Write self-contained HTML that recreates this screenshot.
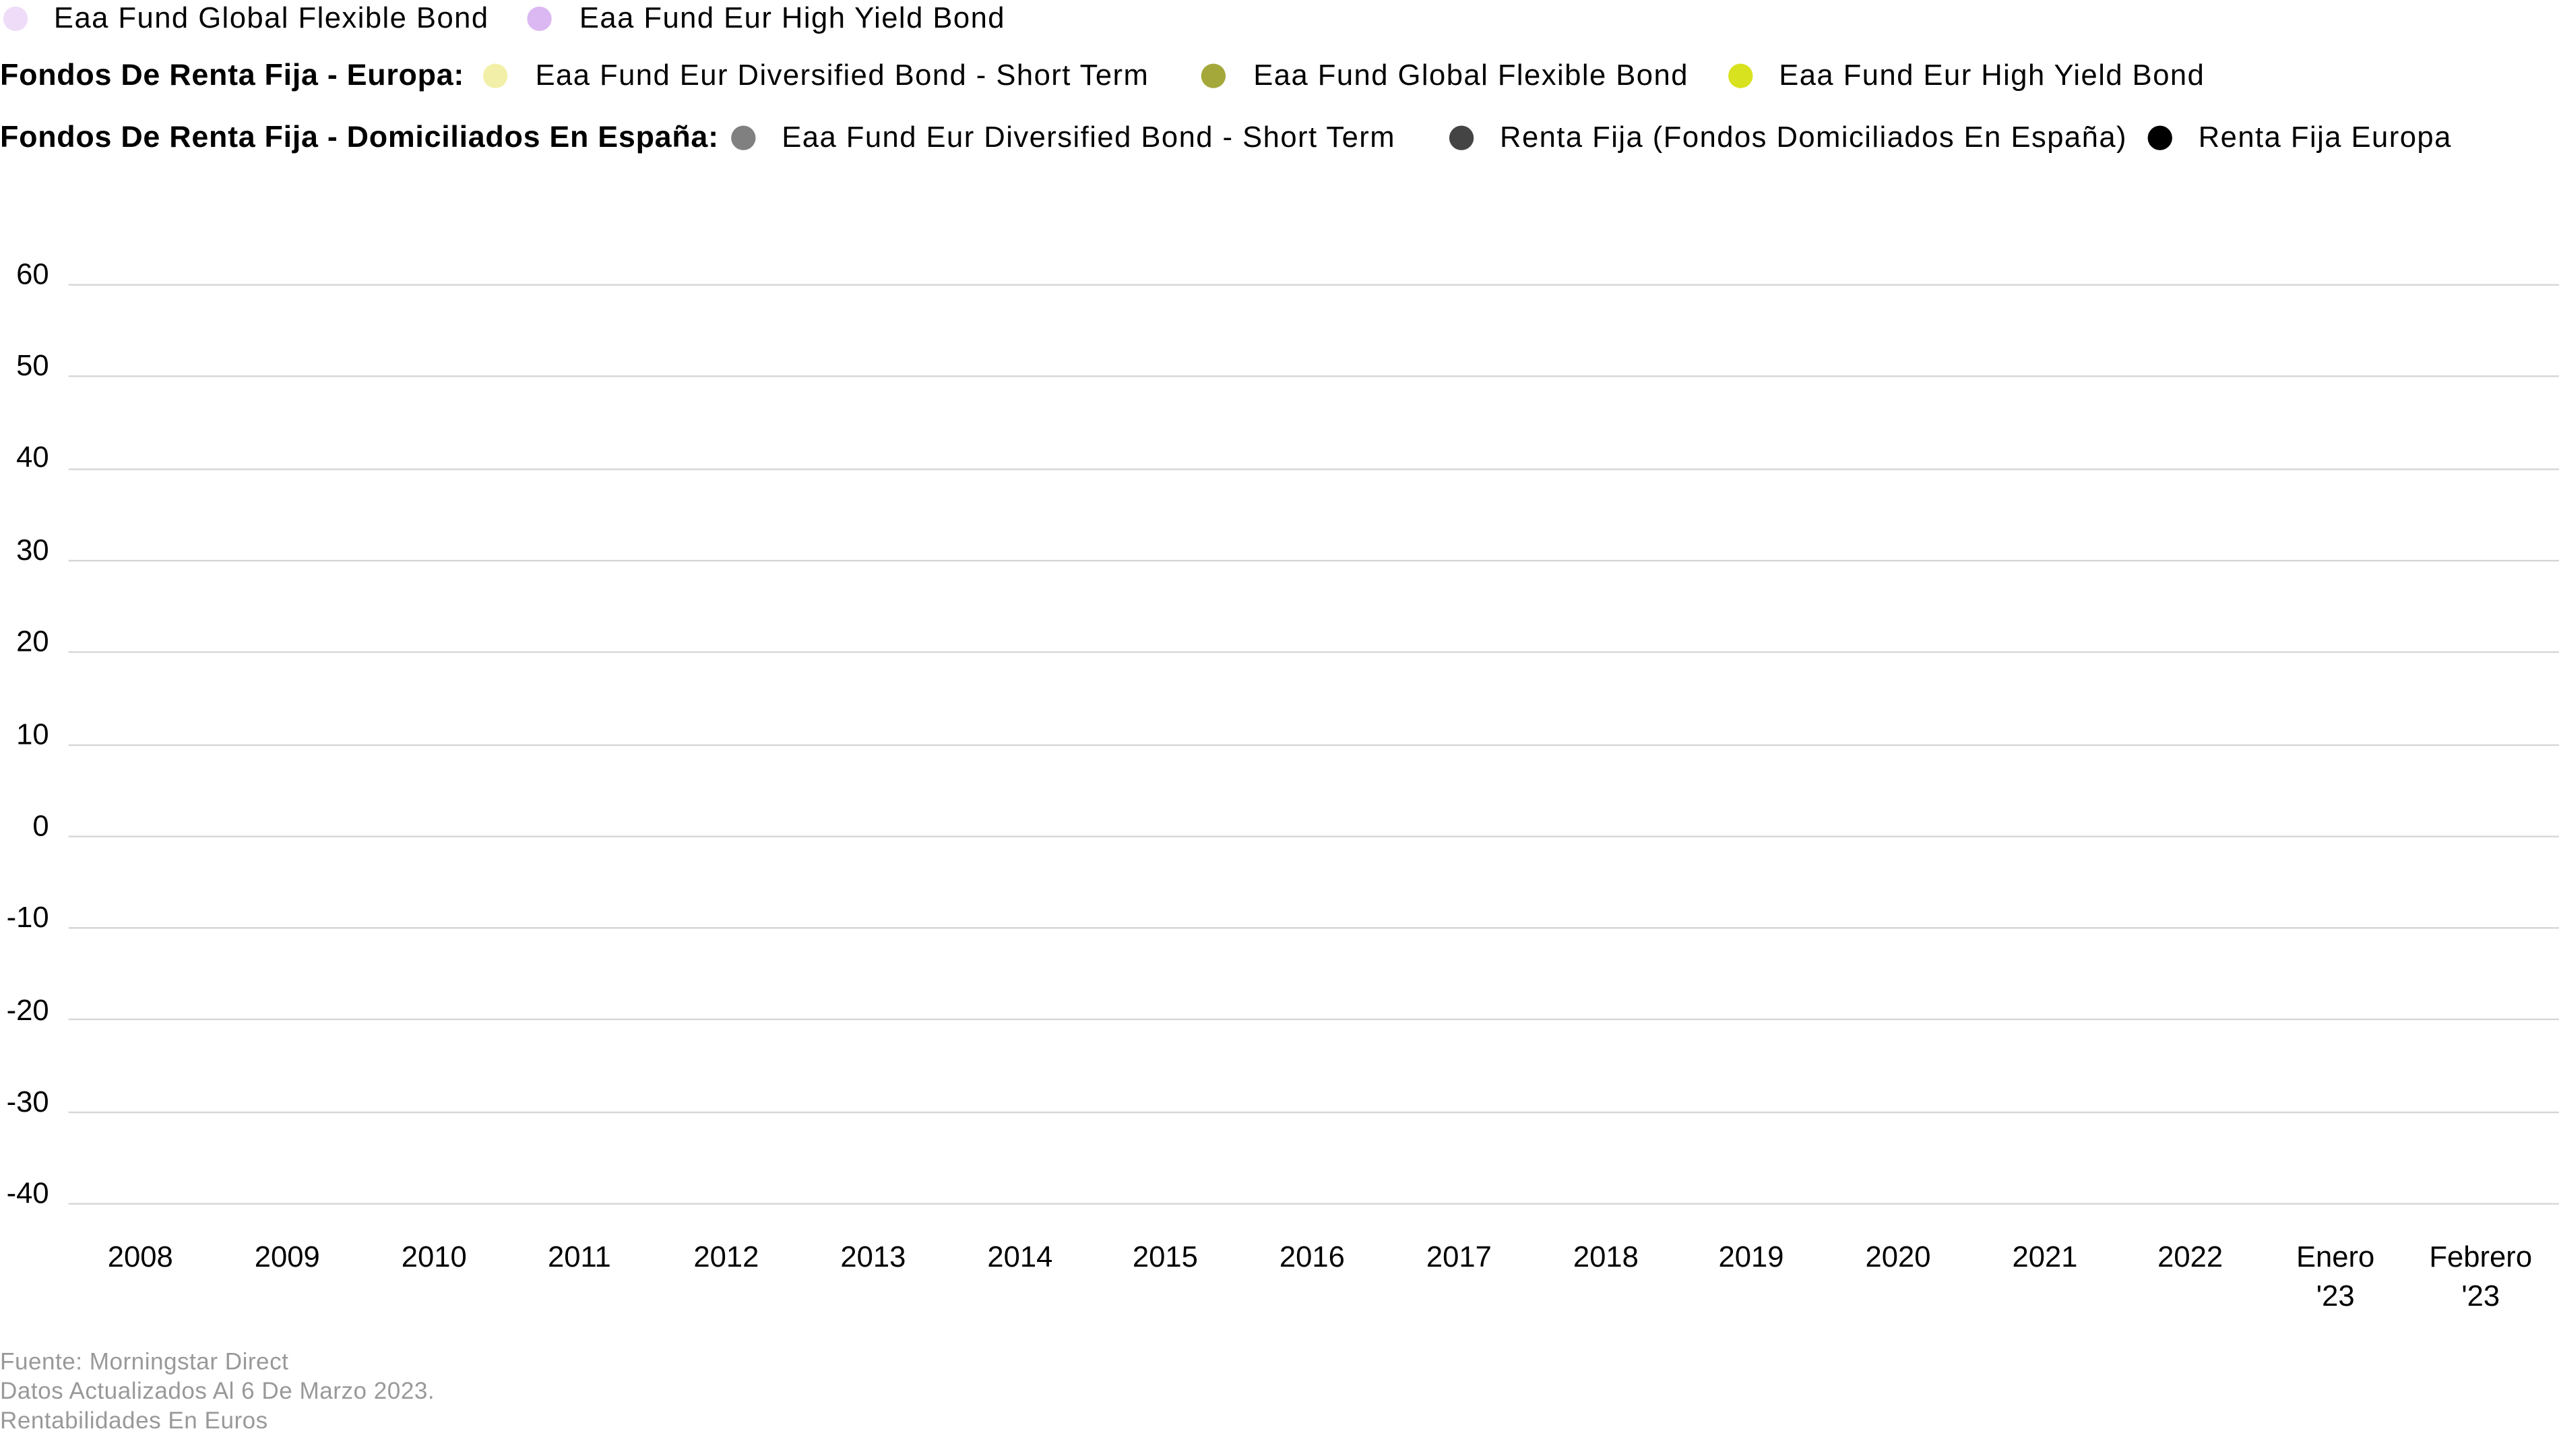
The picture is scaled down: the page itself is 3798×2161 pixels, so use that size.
<!DOCTYPE html>
<html><head><meta charset="utf-8"><style>
html,body{margin:0;padding:0;background:#fff;overflow:hidden;width:3798px;height:2161px}
#w{position:absolute;left:0;top:0;width:1568px;height:892px;transform:scale(2.4222,2.4226);transform-origin:0 0;font-family:"Liberation Sans",sans-serif;color:#000}
.t{position:absolute;font-size:18px;letter-spacing:0.6px;line-height:20px;white-space:nowrap}
.b{position:absolute;font-size:18.5px;font-weight:bold;letter-spacing:0.3px;line-height:20px;white-space:nowrap}
.d{position:absolute;width:15px;height:15px;border-radius:50%}
.g{position:absolute;left:42px;width:1526px;height:1px;background:#d6d6d6}
.y{position:absolute;left:0;width:30px;text-align:right;font-size:18px;line-height:20px}
.x{position:absolute;width:90px;margin-left:-45px;text-align:center;font-size:18px;line-height:24px}
.f{position:absolute;left:0;font-size:14.5px;color:#999;line-height:18px;letter-spacing:0.2px}
</style></head><body><div id="w">
<div class="d" style="left:2px;top:4px;background:#eedcf8"></div><div class="t" style="left:33px;top:1px">Eaa Fund Global Flexible Bond</div>
<div class="d" style="left:323px;top:4px;background:#dcb8f2"></div><div class="t" style="left:355px;top:1px">Eaa Fund Eur High Yield Bond</div>

<div class="b" style="left:0;top:36px">Fondos De Renta Fija - Europa:</div>
<div class="d" style="left:296px;top:39px;background:#f2f0a8"></div><div class="t" style="left:328px;top:36px">Eaa Fund Eur Diversified Bond - Short Term</div>
<div class="d" style="left:736px;top:39px;background:#a4a83a"></div><div class="t" style="left:768px;top:36px">Eaa Fund Global Flexible Bond</div>
<div class="d" style="left:1059px;top:39px;background:#d9e21e"></div><div class="t" style="left:1090px;top:36px">Eaa Fund Eur High Yield Bond</div>

<div class="b" style="left:0;top:74px">Fondos De Renta Fija - Domiciliados En España:</div>
<div class="d" style="left:448px;top:77px;background:#808080"></div><div class="t" style="left:479px;top:74px">Eaa Fund Eur Diversified Bond - Short Term</div>
<div class="d" style="left:888px;top:77px;background:#444"></div><div class="t" style="left:919px;top:74px">Renta Fija (Fondos Domiciliados En España)</div>
<div class="d" style="left:1316px;top:77px;background:#000"></div><div class="t" style="left:1347px;top:74px">Renta Fija Europa</div>

<div class="g" style="top:174px"></div><div class="y" style="top:158px">60</div>
<div class="g" style="top:230px"></div><div class="y" style="top:214px">50</div>
<div class="g" style="top:287px"></div><div class="y" style="top:270px">40</div>
<div class="g" style="top:343px"></div><div class="y" style="top:327px">30</div>
<div class="g" style="top:399px"></div><div class="y" style="top:383px">20</div>
<div class="g" style="top:456px"></div><div class="y" style="top:440px">10</div>
<div class="g" style="top:512px"></div><div class="y" style="top:496px">0</div>
<div class="g" style="top:568px"></div><div class="y" style="top:552px">-10</div>
<div class="g" style="top:624px"></div><div class="y" style="top:609px">-20</div>
<div class="g" style="top:681px"></div><div class="y" style="top:665px">-30</div>
<div class="g" style="top:737px"></div><div class="y" style="top:721px">-40</div>

<div class="x" style="left:86px;top:758px">2008</div>
<div class="x" style="left:176px;top:758px">2009</div>
<div class="x" style="left:266px;top:758px">2010</div>
<div class="x" style="left:355px;top:758px">2011</div>
<div class="x" style="left:445px;top:758px">2012</div>
<div class="x" style="left:535px;top:758px">2013</div>
<div class="x" style="left:625px;top:758px">2014</div>
<div class="x" style="left:714px;top:758px">2015</div>
<div class="x" style="left:804px;top:758px">2016</div>
<div class="x" style="left:894px;top:758px">2017</div>
<div class="x" style="left:984px;top:758px">2018</div>
<div class="x" style="left:1073px;top:758px">2019</div>
<div class="x" style="left:1163px;top:758px">2020</div>
<div class="x" style="left:1253px;top:758px">2021</div>
<div class="x" style="left:1342px;top:758px">2022</div>
<div class="x" style="left:1431px;top:758px">Enero<br>'23</div>
<div class="x" style="left:1520px;top:758px">Febrero<br>'23</div>

<div class="f" style="top:826px">Fuente: Morningstar Direct</div>
<div class="f" style="top:844px">Datos Actualizados Al 6 De Marzo 2023.</div>
<div class="f" style="top:862px">Rentabilidades En Euros</div>
</div></body></html>
